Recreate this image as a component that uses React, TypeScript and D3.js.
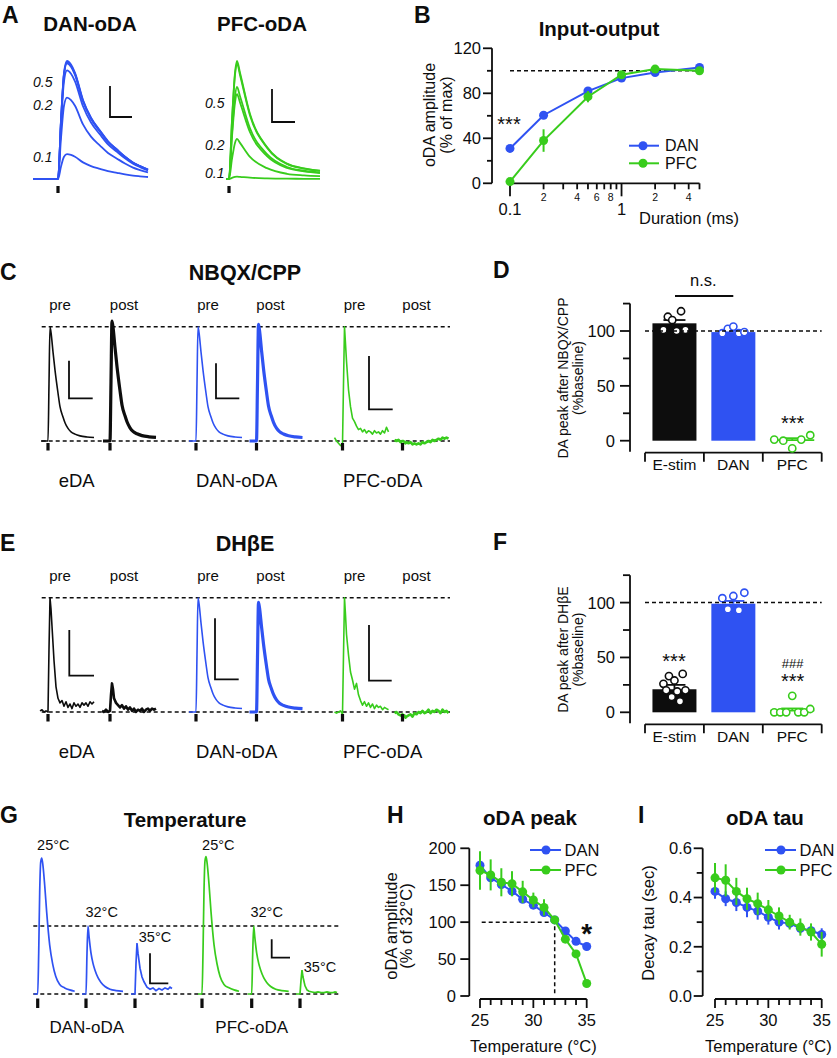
import React from "react";
import * as d3 from "d3";

const FONT = "'Liberation Sans', Arial, Helvetica, sans-serif";
const BLUE = "#2f52f2";
const GREEN = "#38cc1c";
const INK = "#0d0d0d";
type P = [number, number];

// ---------- A : example traces (normalised amplitude) ----------
const aDanAmp = [0.21, 0.69, 0.92, 1.0, 0.98, 0.99];
const aPfcAmp = [0.02, 0.34, 0.72, 0.78, 1.0, 0.98];
const aDanTime = [-25, 0, 3, 6, 9, 13, 17, 25, 33, 42, 50, 59, 67, 75, 82, 90];
const aDanShape = [0, 0, 0.5, 0.9, 1.0, 0.97, 0.9, 0.67, 0.52, 0.41, 0.32, 0.25, 0.19, 0.14, 0.11, 0.08];
const aPfcTime = [-3, 0, 3, 6, 8, 11, 21, 38, 58, 75, 91];
const aPfcShape = [0, 0, 0.5, 0.9, 1.0, 0.9, 0.55, 0.27, 0.13, 0.09, 0.07];

// ---------- B : input-output ----------
const ioDuration = [0.1, 0.2, 0.5, 1, 2, 5];
const ioDan = [31, 60.5, 82, 93.5, 98.5, 103];
const ioDanErr = [2, 2, 2, 2, 1.5, 1.5];
const ioPfc = [1.5, 38, 77, 96.5, 101.5, 100];
const ioPfcErr = [1, 10, 5, 2, 1.5, 1];
const ioYTicks = [0, 20, 40, 60, 80, 100, 120];
const ioYLabels = [0, 40, 80, 120];

// ---------- C / E : pre / post traces ----------
const fastTime = [-7, 0, 1, 2, 3, 5, 7, 10, 12, 15, 17, 20, 23, 27, 32, 39, 46];
const fastShape = [0, 0, 0.5, 1.0, 0.95, 0.78, 0.62, 0.42, 0.3, 0.21, 0.16, 0.11, 0.08, 0.06, 0.045, 0.035, 0.03];
const noisyTime = [-8, -6, -4, -2, 0, 1, 2, 3, 4, 6, 8, 10, 12, 14, 16, 18, 20, 22, 24, 26, 28, 30, 32, 34, 36, 38, 40, 42, 44, 46];
const nbqxPfcPre = [0.03, 0.0, -0.02, -0.04, -0.03, 0.5, 1.0, 0.85, 0.7, 0.45, 0.3, 0.2, 0.17, 0.13, 0.1, 0.11, 0.08, 0.1, 0.07, 0.09, 0.08, 0.06, 0.09, 0.07, 0.08, 0.06, 0.09, 0.07, 0.12, 0.08];
const nbqxPfcPost = [0.01, 0.0, 0.01, -0.01, 0.0, 0.0, -0.01, -0.02, -0.01, -0.02, -0.01, -0.03, -0.02, -0.03, -0.02, -0.03, -0.01, -0.02, -0.01, 0.0, -0.01, 0.01, 0.0, 0.01, 0.02, 0.01, 0.03, 0.02, 0.03, 0.02];
const dhbeEdaPre = [0.01, 0.02, 0.0, 0.01, 0.0, 0.55, 1.0, 0.9, 0.75, 0.45, 0.22, 0.12, 0.08, 0.1, 0.05, 0.09, 0.04, 0.07, 0.03, 0.08, 0.05, 0.07, 0.04, 0.08, 0.06, 0.08, 0.05, 0.09, 0.07, 0.09];
const dhbeEdaPost = [0.01, 0.0, 0.02, 0.0, 0.01, 0.15, 0.25, 0.2, 0.12, 0.08, 0.06, 0.04, 0.06, 0.03, 0.05, 0.02, 0.04, 0.01, 0.03, 0.0, 0.02, 0.01, 0.03, 0.0, 0.02, 0.03, 0.01, 0.03, 0.02, 0.03];
const dhbePfcPre = [0.0, -0.01, 0.0, 0.01, -0.02, 0.5, 1.0, 0.85, 0.68, 0.5, 0.35, 0.28, 0.2, 0.25, 0.15, 0.1, 0.06, 0.09, 0.05, 0.08, 0.04, 0.07, 0.03, 0.06, 0.04, 0.05, 0.02, 0.04, 0.03, 0.02];
const dhbePfcPost = [-0.01, 0.0, -0.02, -0.03, -0.02, -0.04, -0.03, -0.05, -0.04, -0.03, -0.02, -0.04, -0.01, -0.02, 0.0, -0.01, 0.01, -0.01, 0.0, 0.02, -0.01, 0.01, 0.0, 0.02, 0.01, -0.01, 0.02, 0.0, 0.01, -0.01];
const nbqxPeakRel = [1.0, 1.05, 1.0, 1.02];
const dhbeDanPeakRel = [1.0, 0.96];
const traceGroups = ["eDA", "DAN-oDA", "PFC-oDA"];
const phases = ["pre", "post"];

// ---------- D / F : bar charts ----------
const groups = ["E-stim", "DAN", "PFC"];
const nbqxMean = [107, 99, 0.5];
const nbqxSem = [3, 1.2, 1.8];
const nbqxPoints = [[101, 113, 110, 100, 118, 101], [98, 102, 104, 98, 99], [1, 0, -7, 1, 5]];
const dhbeMean = [21, 99, 1.5];
const dhbeSem = [4, 2.5, 2];
const dhbePoints = [[26, 20, 33, 14, 29, 19, 10, 35, 20], [104, 94, 106, 93, 109], [0, 0, 0, 15, 0, 0, 3]];
const barYTicks = [0, 25, 50, 75, 100, 125];
const barYLabels = [0, 50, 100];

// ---------- G : temperature traces (relative to 32 °C peak) ----------
const gTempLabels = ["25°C", "32°C", "35°C"];
const gWideTime = [-4, 0, 1, 2, 3, 4, 5, 7, 9, 12, 15, 18, 22, 27, 32, 37];
const gWideShape = [0, 0, 0.3, 0.75, 0.97, 1.0, 0.96, 0.8, 0.6, 0.36, 0.22, 0.13, 0.07, 0.045, 0.03, 0.02];
const gNarrowTime = [-4, 0, 1, 2, 3, 5, 7, 9, 12, 15, 19, 24, 30, 37];
const gNarrowShape = [0, 0, 0.6, 1.0, 0.85, 0.6, 0.45, 0.35, 0.24, 0.17, 0.11, 0.07, 0.05, 0.04];
const g35Time = [-4, 0, 1, 2, 3, 5, 7, 9, 12, 15, 18, 21, 24, 27, 30, 33, 35, 37];
const gDan35 = [0, 0, 0.45, 0.75, 0.6, 0.38, 0.25, 0.18, 0.1, 0.07, 0.09, 0.05, 0.08, 0.06, 0.09, 0.07, 0.1, 0.08];
const gPfc35 = [0, 0, 0.2, 0.35, 0.25, 0.12, 0.06, 0.04, 0.03, 0.02, 0.03, 0.02, 0.02, 0.03, 0.02, 0.02, 0.03, 0.02];
const gDanAmp = [2.0, 1.0];
const gPfcAmp = [2.02, 1.0];

// ---------- H / I ----------
const temps = [25, 26, 27, 28, 29, 30, 31, 32, 33, 34, 35];
const peakDan = [177, 160, 151, 142, 131, 123, 113, 103, 88, 74, 67];
const peakDanErr = [4, 4, 4, 4, 4, 4, 4, 2, 3, 3, 3];
const peakPfc = [170, 164, 154, 152, 141, 130, 120, 103, 77, 57, 17];
const peakPfcErr = [26, 21, 19, 17, 15, 10, 11, 4, 5, 4, 3];
const tauDan = [0.425, 0.395, 0.38, 0.36, 0.345, 0.32, 0.3, 0.295, 0.275, 0.265, 0.25];
const tauDanErr = [0.03, 0.03, 0.035, 0.04, 0.035, 0.03, 0.03, 0.02, 0.02, 0.02, 0.025];
const tauPfc = [0.48, 0.47, 0.425, 0.395, 0.375, 0.35, 0.325, 0.3, 0.28, 0.26, 0.21];
const tauPfcErr = [0.06, 0.065, 0.055, 0.045, 0.045, 0.04, 0.035, 0.03, 0.035, 0.035, 0.05];
const peakTicks = [0, 50, 100, 150, 200];
const tauTicks = [0, 0.1, 0.2, 0.3, 0.4, 0.5, 0.6];
const tauLabels = [0, 0.2, 0.4, 0.6];
const series = ["DAN", "PFC"];

// ---------- helpers ----------
const zip = (T: number[], V: number[], k = 1): P[] => T.map((t, i) => [t, V[i] * k]);
const pathOf = (xs: (v: number) => number, ys: (v: number) => number, pts: P[], curve: d3.CurveFactory = d3.curveMonotoneX) =>
  d3.line<P>().x((d) => xs(d[0])).y((d) => ys(d[1])).curve(curve)(pts) || "";
const DASH = "4,3";

function ScaleBar({ x, y1, y2, x2 }: { x: number; y1: number; y2: number; x2: number }) {
  return <path d={`M${x},${y1}V${y2}H${x2}`} fill="none" stroke={INK} strokeWidth={1.8} />;
}
function Stim({ x, y, h }: { x: number; y: number; h: number }) {
  return <rect x={x - 1.6} y={y} width={3.2} height={h} fill={INK} />;
}
function Letter({ x, y, t }: { x: number; y: number; t: string }) {
  return <text x={x} y={y} fontSize={23} fontWeight="bold" fill={INK}>{t}</text>;
}
function Title({ x, y, t, size = 20.5 }: { x: number; y: number; t: string; size?: number }) {
  return <text x={x} y={y} fontSize={size} fontWeight="bold" textAnchor="middle" fill={INK}>{t}</text>;
}
function VText({ x, y, t, size }: { x: number; y: number; t: string; size: number }) {
  return <text transform={`translate(${x},${y}) rotate(-90)`} textAnchor="middle" fontSize={size} fill={INK}>{t}</text>;
}

// ---------- Panel A ----------
function PanelA() {
  const y = d3.scaleLinear().domain([0, 1]).range([179, 61]);
  const xDan = d3.scaleLinear().domain([0, 90]).range([58, 148]);
  const xPfc = d3.scaleLinear().domain([0, 91]).range([229, 320]);
  return (
    <g>
      <Letter x={2} y={23} t="A" />
      <Title x={90} y={31} t="DAN-oDA" />
      <Title x={262} y={31} t="PFC-oDA" />
      {aDanAmp.map((a, i) => (
        <path key={"d" + i} d={pathOf(xDan, y, zip(aDanTime, aDanShape, a))} fill="none" stroke={BLUE} strokeWidth={1.8} />
      ))}
      {aPfcAmp.map((a, i) => (
        <path key={"p" + i} d={pathOf(xPfc, y, zip(aPfcTime, aPfcShape, a))} fill="none" stroke={GREEN} strokeWidth={1.8} />
      ))}
      <g fontSize={14} fontStyle="italic" fill={INK}>
        <text x={33} y={87}>0.5</text>
        <text x={33} y={110}>0.2</text>
        <text x={33} y={162}>0.1</text>
        <text x={205} y={108}>0.5</text>
        <text x={205} y={150}>0.2</text>
        <text x={205} y={178}>0.1</text>
      </g>
      <ScaleBar x={110} y1={86} y2={117} x2={132} />
      <ScaleBar x={272} y1={89} y2={122} x2={295} />
      <Stim x={xDan(0)} y={186} h={7} />
      <Stim x={xPfc(0)} y={186} h={7} />
    </g>
  );
}

// ---------- Panel B ----------
function PanelB() {
  const x = d3.scaleLog().domain([0.1, 5]).range([510, 699.5]);
  const y = d3.scaleLinear().domain([0, 120]).range([183.3, 48.3]);
  const ax = 492;
  const xt = x.ticks();
  const minorLabel = (v: number) => {
    const lead = Math.round(v / Math.pow(10, Math.floor(Math.log10(v) + 1e-9)));
    return lead % 2 === 0 ? String(lead) : "";
  };
  const isMajor = (v: number) => Math.abs(Math.log10(v) - Math.round(Math.log10(v))) < 1e-6;
  const drawSeries = (vals: number[], errs: number[], color: string) => (
    <g>
      {vals.map((v, i) => (
        <line key={"e" + i} x1={x(ioDuration[i])} x2={x(ioDuration[i])} y1={y(v - errs[i])} y2={y(v + errs[i])} stroke={color} strokeWidth={2} />
      ))}
      <path d={pathOf(x, y, zip(ioDuration, vals), d3.curveLinear)} fill="none" stroke={color} strokeWidth={2} />
      {vals.map((v, i) => (
        <circle key={"c" + i} cx={x(ioDuration[i])} cy={y(v)} r={4.5} fill={color} />
      ))}
    </g>
  );
  return (
    <g fill={INK}>
      <Letter x={414} y={23} t="B" />
      <Title x={599} y={36} t="Input-output" />
      <VText x={435} y={115} t="oDA amplitude" size={16} />
      <VText x={452} y={115} t="(% of max)" size={16} />
      <line x1={ax} x2={ax} y1={y(120)} y2={y(0)} stroke={INK} strokeWidth={1.8} />
      {ioYTicks.map((t) => (
        <line key={t} x1={ax - (ioYLabels.includes(t) ? 9 : 5)} x2={ax} y1={y(t)} y2={y(t)} stroke={INK} strokeWidth={1.8} />
      ))}
      {ioYLabels.map((t) => (
        <text key={t} x={481} y={y(t)} dy="0.36em" textAnchor="end" fontSize={16.5}>{t}</text>
      ))}
      <line x1={x(0.1)} x2={x(5)} y1={183.3} y2={183.3} stroke={INK} strokeWidth={1.8} />
      {xt.map((t, i) => (
        <line key={i} x1={x(t)} x2={x(t)} y1={183.3} y2={183.3 + (isMajor(t) ? 13 : 6)} stroke={INK} strokeWidth={1.8} />
      ))}
      {xt.filter((t) => !isMajor(t)).map((t, i) => (
        <text key={i} x={x(t)} y={201} textAnchor="middle" fontSize={10.5}>{minorLabel(t)}</text>
      ))}
      {xt.filter(isMajor).map((t, i) => (
        <text key={i} x={x(t)} y={215} textAnchor="middle" fontSize={16.5}>{t >= 1 ? String(t) : t.toFixed(1)}</text>
      ))}
      <text x={639} y={224} fontSize={16.5}>Duration (ms)</text>
      <line x1={x(0.1)} x2={x(5)} y1={y(100)} y2={y(100)} stroke={INK} strokeWidth={1.5} strokeDasharray={DASH} />
      <text x={509} y={131} textAnchor="middle" fontSize={20}>***</text>
      {drawSeries(ioDan, ioDanErr, BLUE)}
      {drawSeries(ioPfc, ioPfcErr, GREEN)}
      {series.map((s, i) => (
        <g key={s}>
          <line x1={629} x2={659} y1={145.7 + i * 17.6} y2={145.7 + i * 17.6} stroke={i ? GREEN : BLUE} strokeWidth={2} />
          <circle cx={643} cy={145.7 + i * 17.6} r={4.5} fill={i ? GREEN : BLUE} />
          <text x={665} y={145.7 + i * 17.6} dy="0.36em" fontSize={16}>{s}</text>
        </g>
      ))}
    </g>
  );
}

// ---------- Panels C / E ----------
type Tr = { pts: P[]; color: string; w: number; curve: d3.CurveFactory };
const ONSETS = [48, 110, 196, 256.5, 342.5, 402.5];
const GROUP_X = [76.7, 236.7, 382.7];

function TracePanel({ letter, title, off, traces, bars }: { letter: string; title: string; off: number; traces: Tr[]; bars: number[][] }) {
  const yTop = 326.7 + off;
  const yBase = 441 + off;
  const y = d3.scaleLinear().domain([0, 1]).range([yBase, yTop]);
  return (
    <g fill={INK}>
      <Letter x={0} y={280 + off} t={letter} />
      <Title x={245} y={280 + off} t={title} size={21.5} />
      {ONSETS.map((o, i) => (
        <text key={i} x={o + (i % 2 ? 14 : 12)} y={310 + off} textAnchor="middle" fontSize={15}>{phases[i % 2]}</text>
      ))}
      <line x1={41.7} x2={450} y1={yTop} y2={yTop} stroke={INK} strokeWidth={1.5} strokeDasharray={DASH} />
      <line x1={41.7} x2={450} y1={yBase} y2={yBase} stroke={INK} strokeWidth={1.5} strokeDasharray={DASH} />
      {traces.map((t, i) => {
        const xs = d3.scaleLinear().domain([0, 46]).range([ONSETS[i], ONSETS[i] + 46]);
        return <path key={i} d={pathOf(xs, y, t.pts, t.curve)} fill="none" stroke={t.color} strokeWidth={t.w} strokeLinejoin="round" />;
      })}
      {ONSETS.map((o, i) => <Stim key={i} x={o} y={443 + off} h={7.5} />)}
      {bars.map((b, i) => <ScaleBar key={i} x={b[0]} y1={b[1] + off} y2={b[2] + off} x2={b[3]} />)}
      {traceGroups.map((g, i) => (
        <text key={g} x={GROUP_X[i]} y={487 + off} textAnchor="middle" fontSize={18.5}>{g}</text>
      ))}
    </g>
  );
}

// ---------- Panels D / F ----------
function BarPanel({ letter, yZero, means, sems, points, ylab, children }: {
  letter: string; yZero: number; means: number[]; sems: number[]; points: number[][]; ylab: string; children?: React.ReactNode;
}) {
  const y = d3.scaleLinear().domain([0, 100]).range([yZero, yZero - 109.7]);
  const xb = d3.scaleBand().domain(groups).range([645, 821.7]).padding(0);
  const ax = 630;
  const colors = [INK, BLUE, GREEN];
  const brY = yZero + 12;
  return (
    <g fill={INK}>
      <Letter x={493} y={yZero - 162.7} t={letter} />
      <VText x={568} y={yZero - 62.7} t={ylab} size={14} />
      <VText x={583} y={yZero - 62.7} t="(%baseline)" size={14} />
      <line x1={ax} x2={ax} y1={y(125)} y2={y(-10)} stroke={INK} strokeWidth={1.8} />
      {barYTicks.map((t) => (
        <line key={t} x1={ax - (barYLabels.includes(t) ? 10 : 7)} x2={ax} y1={y(t)} y2={y(t)} stroke={INK} strokeWidth={1.8} />
      ))}
      {barYLabels.map((t) => (
        <text key={t} x={615} y={y(t)} dy="0.36em" textAnchor="end" fontSize={16.5}>{t}</text>
      ))}
      <line x1={645} x2={821.7} y1={brY} y2={brY} stroke={INK} strokeWidth={1.8} />
      {[...groups.map((g) => xb(g) as number), 821.7].map((v, i) => (
        <line key={i} x1={v} x2={v} y1={brY} y2={brY + 9} stroke={INK} strokeWidth={1.8} />
      ))}
      {groups.map((g) => (
        <text key={g} x={(xb(g) as number) + xb.bandwidth() / 2} y={yZero + 29.3} textAnchor="middle" fontSize={15.5}>{g}</text>
      ))}
      {groups.map((g, i) => {
        const cx = (xb(g) as number) + xb.bandwidth() / 2;
        const m = means[i];
        const pts = points[i];
        const spread = i === 2 ? 36 : 22;
        const step = pts.length > 1 ? spread / (pts.length - 1) : 0;
        return (
          <g key={g}>
            {i < 2 && <rect x={cx - 22} y={y(m)} width={44} height={y(0) - y(m)} fill={colors[i]} />}
            {i === 2 && <line x1={cx - 22} x2={cx + 22} y1={y(m)} y2={y(m)} stroke={GREEN} strokeWidth={1.8} />}
            <line x1={cx} x2={cx} y1={y(m)} y2={y(m + sems[i])} stroke={colors[i]} strokeWidth={1.8} />
            <line x1={cx - 11} x2={cx + 11} y1={y(m + sems[i])} y2={y(m + sems[i])} stroke={colors[i]} strokeWidth={1.8} />
            {pts.map((p, j) => (
              <circle key={j} cx={cx - spread / 2 + j * step} cy={y(p)} r={3.6} fill="#fff" stroke={colors[i]} strokeWidth={1.6} />
            ))}
          </g>
        );
      })}
      <line x1={645} x2={821.7} y1={y(100)} y2={y(100)} stroke={INK} strokeWidth={1.5} strokeDasharray={DASH} />
      {children}
    </g>
  );
}

// ---------- Panel G ----------
function PanelG() {
  const y = d3.scaleLinear().domain([0, 1]).range([994, 926]);
  const danOn = [37.7, 86, 135];
  const pfcOn = [202, 251.7, 300];
  const xs = (o: number) => d3.scaleLinear().domain([0, 37]).range([o, o + 37]);
  const danTr: P[][] = [zip(gWideTime, gWideShape, gDanAmp[0]), zip(gNarrowTime, gNarrowShape, gDanAmp[1]), zip(g35Time, gDan35)];
  const pfcTr: P[][] = [zip(gWideTime, gWideShape, gPfcAmp[0]), zip(gNarrowTime, gNarrowShape, gPfcAmp[1]), zip(g35Time, gPfc35)];
  const danLab = [[53.3, 850], [101.7, 917], [155, 942]];
  const pfcLab = [[218.3, 850], [266.7, 917], [320, 972]];
  return (
    <g fill={INK}>
      <Letter x={0} y={823} t="G" />
      <Title x={185} y={827} t="Temperature" />
      <line x1={33.3} x2={338.3} y1={926} y2={926} stroke={INK} strokeWidth={1.5} strokeDasharray={DASH} />
      <line x1={33.3} x2={338.3} y1={994} y2={994} stroke={INK} strokeWidth={1.5} strokeDasharray={DASH} />
      {danTr.map((p, i) => (
        <path key={"d" + i} d={pathOf(xs(danOn[i]), y, p, i === 2 ? d3.curveLinear : d3.curveMonotoneX)} fill="none" stroke={BLUE} strokeWidth={1.7} />
      ))}
      {pfcTr.map((p, i) => (
        <path key={"p" + i} d={pathOf(xs(pfcOn[i]), y, p, i === 2 ? d3.curveLinear : d3.curveMonotoneX)} fill="none" stroke={GREEN} strokeWidth={1.7} />
      ))}
      {gTempLabels.map((t, i) => (
        <g key={t}>
          <text x={danLab[i][0]} y={danLab[i][1]} textAnchor="middle" fontSize={14.5}>{t}</text>
          <text x={pfcLab[i][0]} y={pfcLab[i][1]} textAnchor="middle" fontSize={14.5}>{t}</text>
        </g>
      ))}
      <ScaleBar x={150} y1={953.3} y2={983.3} x2={168.3} />
      <ScaleBar x={271.7} y1={939.3} y2={957.7} x2={290} />
      {[...danOn, ...pfcOn].map((o, i) => <Stim key={i} x={o} y={998.5} h={9.5} />)}
      <text x={86.7} y={1033} textAnchor="middle" fontSize={17}>DAN-oDA</text>
      <text x={251.7} y={1033} textAnchor="middle" fontSize={17}>PFC-oDA</text>
    </g>
  );
}

// ---------- Panels H / I ----------
function LinePanel(p: {
  xr: [number, number]; ax: number; yDomain: [number, number]; yTicks: number[]; yLabels: number[];
  fmt: (v: number) => string; labelRight: number; dan: number[]; danErr: number[]; pfc: number[]; pfcErr: number[];
  title: string; titleX: number; letter: string; letterX: number; ylab: string[]; ylabX: number[]; ylabY: number;
  legendX: number; extra?: (x: d3.ScaleLinear<number, number>, y: d3.ScaleLinear<number, number>) => React.ReactNode;
}) {
  const x = d3.scaleLinear().domain([25, 35]).range(p.xr);
  const y = d3.scaleLinear().domain(p.yDomain).range([996, 848.3]);
  const axY = 999;
  const drawSeries = (vals: number[], errs: number[], color: string) => (
    <g>
      {vals.map((v, i) => (
        <line key={"e" + i} x1={x(temps[i])} x2={x(temps[i])} y1={y(v - errs[i])} y2={y(v + errs[i])} stroke={color} strokeWidth={2} />
      ))}
      <path d={pathOf(x, y, zip(temps, vals), d3.curveLinear)} fill="none" stroke={color} strokeWidth={2} />
      {vals.map((v, i) => <circle key={"c" + i} cx={x(temps[i])} cy={y(v)} r={4.5} fill={color} />)}
    </g>
  );
  return (
    <g fill={INK}>
      <Letter x={p.letterX} y={823} t={p.letter} />
      <Title x={p.titleX} y={825} t={p.title} />
      {p.ylab.map((t, i) => <VText key={t} x={p.ylabX[i]} y={p.ylabY} t={t} size={16.5} />)}
      <line x1={p.ax} x2={p.ax} y1={y(p.yDomain[1])} y2={y(p.yDomain[0])} stroke={INK} strokeWidth={1.8} />
      {p.yTicks.map((t) => (
        <line key={t} x1={p.ax - (p.yLabels.some((l) => Math.abs(l - t) < 1e-9) ? 9 : 6)} x2={p.ax} y1={y(t)} y2={y(t)} stroke={INK} strokeWidth={1.8} />
      ))}
      {p.yLabels.map((t) => (
        <text key={t} x={p.labelRight} y={y(t)} dy="0.36em" textAnchor="end" fontSize={16.5}>{p.fmt(t)}</text>
      ))}
      <line x1={p.xr[0]} x2={p.xr[1]} y1={axY} y2={axY} stroke={INK} strokeWidth={1.8} />
      {temps.map((t) => (
        <line key={t} x1={x(t)} x2={x(t)} y1={axY} y2={axY + (t % 5 === 0 ? 9 : 6)} stroke={INK} strokeWidth={1.8} />
      ))}
      {temps.filter((t) => t % 5 === 0).map((t) => (
        <text key={t} x={x(t)} y={1026} textAnchor="middle" fontSize={16.5}>{t}</text>
      ))}
      <text x={(p.xr[0] + p.xr[1]) / 2} y={1052} textAnchor="middle" fontSize={16.5}>Temperature (°C)</text>
      {p.extra && p.extra(x, y)}
      {drawSeries(p.dan, p.danErr, BLUE)}
      {drawSeries(p.pfc, p.pfcErr, GREEN)}
      {series.map((s, i) => (
        <g key={s}>
          <line x1={p.legendX} x2={p.legendX + 31} y1={850 + i * 20} y2={850 + i * 20} stroke={i ? GREEN : BLUE} strokeWidth={2} />
          <circle cx={p.legendX + 16} cy={850 + i * 20} r={4.5} fill={i ? GREEN : BLUE} />
          <text x={p.legendX + 34.5} y={850 + i * 20} dy="0.36em" fontSize={16.5}>{s}</text>
        </g>
      ))}
    </g>
  );
}

export default function App() {
  const cTraces: Tr[] = [
    { pts: zip(fastTime, fastShape, nbqxPeakRel[0]), color: INK, w: 1.6, curve: d3.curveMonotoneX },
    { pts: zip(fastTime, fastShape, nbqxPeakRel[1]), color: INK, w: 3.2, curve: d3.curveMonotoneX },
    { pts: zip(fastTime, fastShape, nbqxPeakRel[2]), color: BLUE, w: 1.6, curve: d3.curveMonotoneX },
    { pts: zip(fastTime, fastShape, nbqxPeakRel[3]), color: BLUE, w: 3.2, curve: d3.curveMonotoneX },
    { pts: zip(noisyTime, nbqxPfcPre), color: GREEN, w: 1.6, curve: d3.curveLinear },
    { pts: zip(noisyTime, nbqxPfcPost), color: GREEN, w: 2.6, curve: d3.curveLinear },
  ];
  const eTraces: Tr[] = [
    { pts: zip(noisyTime, dhbeEdaPre), color: INK, w: 1.6, curve: d3.curveLinear },
    { pts: zip(noisyTime, dhbeEdaPost), color: INK, w: 2.6, curve: d3.curveLinear },
    { pts: zip(fastTime, fastShape, dhbeDanPeakRel[0]), color: BLUE, w: 1.6, curve: d3.curveMonotoneX },
    { pts: zip(fastTime, fastShape, dhbeDanPeakRel[1]), color: BLUE, w: 3.2, curve: d3.curveMonotoneX },
    { pts: zip(noisyTime, dhbePfcPre), color: GREEN, w: 1.6, curve: d3.curveLinear },
    { pts: zip(noisyTime, dhbePfcPost), color: GREEN, w: 2.6, curve: d3.curveLinear },
  ];
  const cBars = [[69, 360.7, 398.3, 92.7], [216, 363.3, 398.3, 239.3], [369, 356, 409.3, 392.7]];
  const eBars = [[69.3, 359, 404.7, 94], [215, 347.3, 408.3, 238.7], [369, 354, 409.7, 391.7]];
  return (
    <svg width={837} height={1058} viewBox="0 0 837 1058" style={{ position: "absolute", left: 0, top: 0, background: "#fff" }} fontFamily={FONT}>
      <rect x={0} y={0} width={837} height={1058} fill="#fff" />
      <PanelA />
      <PanelB />
      <TracePanel letter="C" title="NBQX/CPP" off={0} traces={cTraces} bars={cBars} />
      <BarPanel letter="D" yZero={440.7} means={nbqxMean} sems={nbqxSem} points={nbqxPoints} ylab="DA peak after NBQX/CPP">
        <text x={703.3} y={286} textAnchor="middle" fontSize={16.5} fill={INK}>n.s.</text>
        <line x1={675} x2={733.3} y1={296} y2={296} stroke={INK} strokeWidth={1.8} />
        <text x={792.7} y={429.5} textAnchor="middle" fontSize={20} fill={INK}>***</text>
      </BarPanel>
      <TracePanel letter="E" title="DHβE" off={271} traces={eTraces} bars={eBars} />
      <BarPanel letter="F" yZero={712.3} means={dhbeMean} sems={dhbeSem} points={dhbePoints} ylab="DA peak after DHβE">
        <text x={674} y={668} textAnchor="middle" fontSize={20} fill={INK}>***</text>
        <text x={792.7} y={668} textAnchor="middle" fontSize={13} fill={INK}>###</text>
        <text x={792.7} y={688} textAnchor="middle" fontSize={20} fill={INK}>***</text>
      </BarPanel>
      <PanelG />
      <LinePanel
        xr={[480, 586.7]} ax={469.3} yDomain={[0, 200]} yTicks={peakTicks} yLabels={peakTicks} fmt={(v) => String(v)} labelRight={456}
        dan={peakDan} danErr={peakDanErr} pfc={peakPfc} pfcErr={peakPfcErr}
        title="oDA peak" titleX={530} letter="H" letterX={387} ylab={["oDA amplitude", "(% of 32°C)"]} ylabX={[397, 412]} ylabY={926}
        legendX={530}
        extra={(x, y) => (
          <path d={`M${x(25) + 1.7},${y(100)}H${x(32)}V${y(0)}`} fill="none" stroke={INK} strokeWidth={1.5} strokeDasharray={DASH} />
        )}
      />
      <text x={586.7} y={943} textAnchor="middle" fontSize={28} fontWeight="bold" fill={INK}>*</text>
      <LinePanel
        xr={[715, 821.7]} ax={702.7} yDomain={[0, 0.6]} yTicks={tauTicks} yLabels={tauLabels} fmt={(v) => v.toFixed(1)} labelRight={692}
        dan={tauDan} danErr={tauDanErr} pfc={tauPfc} pfcErr={tauPfcErr}
        title="oDA tau" titleX={765} letter="I" letterX={638} ylab={["Decay tau (sec)"]} ylabX={[654]} ylabY={923}
        legendX={765}
      />
    </svg>
  );
}
